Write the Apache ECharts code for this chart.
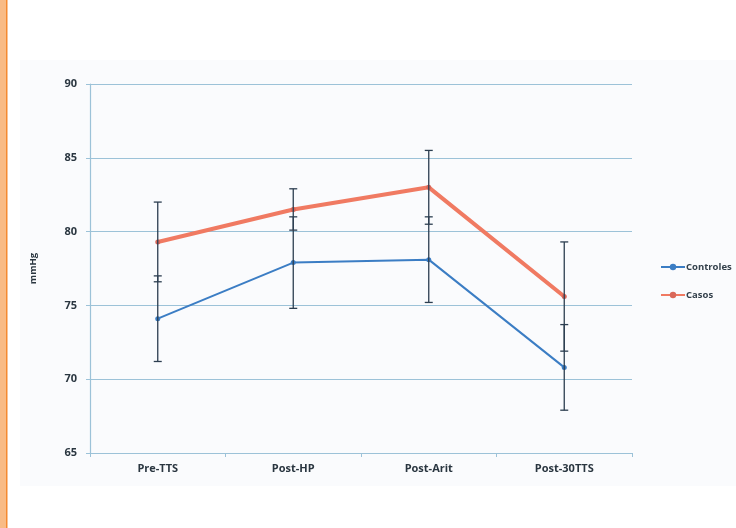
<!DOCTYPE html>
<html><head><meta charset="utf-8">
<script src="https://cdn.jsdelivr.net/npm/echarts@6/dist/echarts.min.js"></script>
<style>html,body{margin:0;padding:0;background:#fff}#c{width:736px;height:528px}</style>
</head><body><div id="c"></div>
<script>
const categories = ['Pre-TTS', 'Post-HP', 'Post-Arit', 'Post-30TTS'];
const controles = [74.1, 77.9, 78.1, 70.8];
const controlesErr = [2.9, 3.1, 2.9, 2.9];
const casos = [79.3, 81.5, 83.0, 75.6];
const casosErr = [2.7, 1.4, 2.5, 3.7];
const yTicks = [65, 70, 75, 80, 85, 90];

const chart = echarts.init(document.getElementById('c'));
function errData(vals, errs) {
  return vals.map((v, i) => [i, v - errs[i], v + errs[i]]);
}
function errRender(params, api) {
  const x = api.value(0);
  const lo = api.coord([x, api.value(1)]);
  const hi = api.coord([x, api.value(2)]);
  const w = 4;
  const st = { stroke: '#2c3e50', lineWidth: 1.3 };
  return {
    type: 'group',
    children: [
      { type: 'line', shape: { x1: lo[0], y1: lo[1], x2: hi[0], y2: hi[1] }, style: st },
      { type: 'line', shape: { x1: lo[0] - w, y1: lo[1], x2: lo[0] + w, y2: lo[1] }, style: st },
      { type: 'line', shape: { x1: hi[0] - w, y1: hi[1], x2: hi[0] + w, y2: hi[1] }, style: st }
    ]
  };
}
const font = '"Open Sans", "Liberation Sans", sans-serif';
chart.setOption({
  animation: false,
  backgroundColor: '#ffffff',
  graphic: [
    { type: 'rect', shape: { x: 20, y: 60, width: 716, height: 426 }, style: { fill: '#fafbfd' }, z: -10 },
    { type: 'rect', shape: { x: 0, y: 0, width: 6, height: 528 }, style: { fill: '#f9bb85' }, z: -10 },
    { type: 'rect', shape: { x: 6, y: 0, width: 1.5, height: 528 }, style: { fill: '#f58a30' }, z: -10 }
  ],
  grid: { left: 90, right: 104, top: 84, bottom: 75 },
  legend: {
    orient: 'vertical', left: 655, top: 257, itemGap: 18,
    itemWidth: 24, itemHeight: 8,
    textStyle: { fontFamily: font, fontSize: 9.5, fontWeight: 'bold', color: '#34414c', padding: [0, 0, 0, -4] },
    data: ['Controles', 'Casos']
  },
  xAxis: {
    type: 'category', data: categories, boundaryGap: true,
    axisLine: { lineStyle: { color: '#9cc2d8', width: 1.2 } },
    axisTick: { show: true, length: 4, lineStyle: { color: '#9cc2d8' } },
    axisLabel: { fontFamily: font, fontWeight: 'bold', fontSize: 11, color: '#2a3640', margin: 10 }
  },
  yAxis: {
    type: 'value', min: 65, max: 90, interval: 5,
    name: 'mmHg', nameLocation: 'middle', nameGap: 52, nameRotate: 90,
    nameTextStyle: { fontFamily: font, fontWeight: 'bold', fontSize: 9.5, color: '#2a3640' },
    axisLine: { show: true, lineStyle: { color: '#9cc2d8', width: 1.2 } },
    axisTick: { show: true, length: 4, lineStyle: { color: '#9cc2d8' } },
    splitLine: { lineStyle: { color: '#9cc2d8', width: 1.2 } },
    axisLabel: { fontFamily: font, fontWeight: 'bold', fontSize: 11, color: '#2a3640', margin: 13,
      formatter: v => yTicks.includes(v) ? String(v) : '' }
  },
  series: [
    { name: 'Controles', type: 'line', data: controles, color: '#3b7dc4',
      lineStyle: { width: 2, color: '#3b7dc4' }, symbol: 'circle', symbolSize: 5,
      itemStyle: { color: '#3b7dc4' }, z: 3 },
    { name: 'Casos', type: 'line', data: casos, color: '#f07a62',
      lineStyle: { width: 4, color: '#f07a62' }, symbol: 'circle', symbolSize: 5,
      itemStyle: { color: '#d9685a' }, z: 3 },
    { name: 'errCtrl', type: 'custom', data: errData(controles, controlesErr), renderItem: errRender, z: 4, silent: true },
    { name: 'errCasos', type: 'custom', data: errData(casos, casosErr), renderItem: errRender, z: 4, silent: true }
  ]
});
</script></body></html>
